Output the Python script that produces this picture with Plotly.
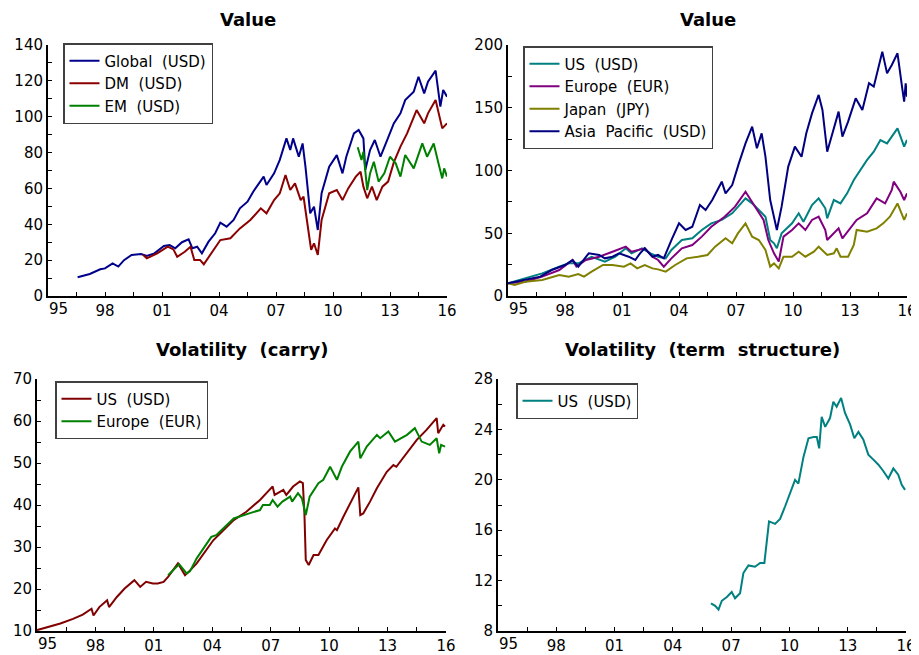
"""
Value and volatility style indices, four panels
"""
import plotly.graph_objects as go

# ---- data (decimal years / index levels) ----
global_x = [1996.56, 1997.2, 1997.75, 1998.0, 1998.4, 1998.7, 1999.0, 1999.4, 1999.9, 2000.2, 2000.6, 2001.1, 2001.4, 2001.7, 2002.05, 2002.4, 2002.6, 2002.85, 2003.1, 2003.45, 2003.8, 2004.07, 2004.4, 2004.77, 2005.1, 2005.5, 2005.8, 2006.35, 2006.5, 2006.9, 2007.2, 2007.55, 2007.75, 2007.9, 2008.2, 2008.4, 2008.55, 2008.8, 2009.0, 2009.2, 2009.4, 2009.8, 2010.2, 2010.5, 2010.7, 2011.1, 2011.35, 2011.6, 2011.7, 2011.95, 2012.2, 2012.5, 2012.85, 2013.2, 2013.55, 2013.8, 2014.25, 2014.5, 2014.8, 2015.0, 2015.4, 2015.65, 2015.8, 2016.0]
global_y = [10.5, 12.3, 14.9, 15.4, 18.2, 16.4, 20.0, 22.9, 23.4, 22.3, 23.8, 27.9, 28.4, 26.6, 30.0, 31.6, 26.6, 27.5, 23.8, 30.3, 35.0, 40.9, 38.7, 42.4, 48.9, 52.6, 58.2, 66.6, 61.9, 68.4, 75.9, 87.9, 81.4, 87.9, 77.7, 85.1, 72.1, 46.1, 49.8, 36.8, 57.3, 72.1, 78.6, 68.4, 77.7, 90.7, 92.6, 87.9, 70.3, 81.4, 87.0, 77.7, 87.0, 96.3, 101.9, 109.3, 114.0, 122.3, 113.0, 119.5, 125.7, 105.6, 114.9, 111.2]

dm_x = [2000.0, 2000.2, 2000.75, 2001.3, 2001.6, 2001.8, 2002.2, 2002.5, 2002.7, 2003.0, 2003.2, 2003.55, 2004.07, 2004.6, 2005.1, 2005.65, 2006.2, 2006.5, 2006.9, 2007.2, 2007.5, 2007.75, 2008.0, 2008.3, 2008.45, 2008.6, 2008.85, 2009.0, 2009.2, 2009.4, 2009.8, 2010.2, 2010.5, 2010.8, 2011.2, 2011.45, 2011.6, 2011.8, 2012.05, 2012.3, 2012.6, 2012.9, 2013.2, 2013.55, 2013.9, 2014.4, 2014.8, 2015.0, 2015.4, 2015.75, 2016.0]
dm_y = [23.0, 21.0, 23.8, 27.5, 26.0, 21.9, 24.7, 27.5, 20.1, 20.1, 17.7, 22.9, 31.2, 32.2, 37.7, 42.4, 48.9, 46.1, 53.5, 57.3, 67.5, 59.1, 62.8, 53.5, 55.4, 44.2, 25.7, 29.4, 22.9, 42.4, 57.3, 59.1, 53.5, 60.0, 66.6, 69.3, 61.0, 54.5, 61.0, 53.5, 61.0, 63.8, 74.5, 83.3, 90.7, 103.7, 96.3, 101.9, 109.3, 93.5, 96.3]

em_x = [2011.3, 2011.5, 2011.6, 2011.8, 2011.95, 2012.15, 2012.4, 2012.7, 2013.0, 2013.3, 2013.55, 2013.8, 2014.25, 2014.7, 2014.95, 2015.3, 2015.55, 2015.75, 2015.85, 2016.0]
em_y = [83.0, 75.9, 80.5, 59.1, 68.4, 74.9, 63.8, 68.4, 77.7, 74.0, 66.6, 78.6, 71.2, 85.1, 77.7, 85.1, 74.0, 65.6, 71.2, 66.6]

us_x = [1995.0, 1995.9, 1996.8, 1997.7, 1998.2, 1998.7, 1999.4, 2000.1, 2000.65, 2001.2, 2001.5, 2002.05, 2002.5, 2002.9, 2003.3, 2003.6, 2004.15, 2004.7, 2005.2, 2005.7, 2006.25, 2006.8, 2007.2, 2007.5, 2007.85, 2008.2, 2008.55, 2008.8, 2009.0, 2009.15, 2009.4, 2009.95, 2010.3, 2010.55, 2011.0, 2011.35, 2011.7, 2011.8, 2012.15, 2012.5, 2012.85, 2013.2, 2013.55, 2013.9, 2014.25, 2014.6, 2014.95, 2015.5, 2015.85, 2016.0]
us_y = [10.1, 14.0, 18.0, 23.4, 26.0, 26.0, 31.3, 27.4, 31.3, 38.0, 34.0, 38.0, 34.0, 31.3, 30.0, 36.7, 44.6, 46.0, 52.6, 57.9, 60.6, 65.9, 72.5, 77.8, 73.8, 68.5, 63.2, 44.6, 42.0, 38.0, 49.9, 57.9, 65.9, 59.2, 72.5, 77.8, 69.9, 61.9, 76.5, 73.8, 81.8, 92.4, 100.4, 108.4, 115.0, 124.3, 121.6, 133.6, 119.0, 124.3]

eu_x = [1995.0, 1995.9, 1996.8, 1997.7, 1998.4, 1998.6, 1999.1, 1999.8, 2000.5, 2001.2, 2001.5, 2002.2, 2002.6, 2002.9, 2003.2, 2003.6, 2004.15, 2004.7, 2005.2, 2005.7, 2006.4, 2006.95, 2007.5, 2007.85, 2008.2, 2008.45, 2008.7, 2009.0, 2009.25, 2009.5, 2009.95, 2010.3, 2010.65, 2011.0, 2011.35, 2011.7, 2011.8, 2012.15, 2012.4, 2012.6, 2013.0, 2013.35, 2013.9, 2014.4, 2014.85, 2015.2, 2015.3, 2015.65, 2015.85, 2016.0]
eu_y = [10.1, 11.4, 15.4, 20.7, 28.7, 23.4, 28.7, 31.3, 35.3, 39.3, 35.3, 38.0, 31.3, 28.7, 23.4, 30.0, 38.0, 40.6, 47.3, 55.2, 63.2, 71.2, 83.1, 75.2, 67.2, 60.6, 44.6, 34.0, 27.4, 47.3, 52.6, 57.9, 52.6, 60.6, 63.2, 52.6, 44.6, 49.9, 53.9, 46.0, 53.9, 60.6, 65.9, 77.8, 73.8, 84.5, 91.1, 83.1, 76.5, 81.8]

jp_x = [1995.0, 1995.35, 1995.9, 1996.8, 1997.7, 1998.2, 1998.7, 1999.0, 1999.4, 2000.0, 2000.5, 2001.1, 2001.45, 2001.8, 2002.2, 2002.6, 2002.9, 2003.3, 2003.8, 2004.4, 2005.0, 2005.5, 2005.9, 2006.45, 2006.8, 2007.1, 2007.5, 2007.85, 2008.2, 2008.55, 2008.8, 2009.0, 2009.25, 2009.5, 2009.95, 2010.3, 2010.65, 2011.1, 2011.35, 2011.8, 2012.15, 2012.3, 2012.5, 2012.9, 2013.2, 2013.35, 2013.9, 2014.4, 2014.75, 2015.1, 2015.5, 2015.85, 2016.0]
jp_y = [10.1, 8.8, 11.4, 12.7, 16.7, 15.4, 17.5, 15.4, 19.4, 24.7, 24.7, 23.4, 26.0, 22.0, 24.7, 22.0, 21.2, 19.4, 24.7, 30.0, 31.3, 32.7, 39.3, 46.0, 42.0, 49.9, 57.9, 47.3, 44.6, 36.7, 23.4, 26.0, 22.0, 31.3, 31.3, 35.3, 31.3, 35.3, 39.3, 32.7, 34.0, 38.0, 31.3, 31.3, 40.6, 52.6, 51.3, 53.9, 57.9, 63.2, 73.8, 60.6, 65.9]

ap_x = [1995.0, 1995.9, 1996.7, 1997.3, 1998.0, 1998.4, 1998.7, 1999.25, 1999.8, 2000.1, 2000.5, 2000.85, 2001.35, 2001.7, 2001.95, 2002.2, 2002.6, 2002.9, 2003.2, 2003.6, 2004.0, 2004.35, 2004.7, 2005.1, 2005.4, 2005.75, 2006.25, 2006.45, 2006.8, 2007.15, 2007.5, 2007.85, 2008.1, 2008.35, 2008.55, 2008.8, 2009.0, 2009.15, 2009.4, 2009.75, 2010.1, 2010.45, 2010.7, 2011.0, 2011.35, 2011.55, 2011.8, 2012.15, 2012.4, 2012.6, 2012.9, 2013.3, 2013.65, 2014.0, 2014.25, 2014.7, 2014.95, 2015.2, 2015.5, 2015.75, 2015.85, 2015.93, 2016.0]
ap_y = [10.1, 12.7, 15.4, 20.7, 24.7, 28.7, 23.4, 34.0, 32.7, 30.0, 31.3, 34.0, 31.3, 28.7, 34.0, 38.0, 31.3, 32.7, 30.0, 44.6, 57.9, 52.6, 55.2, 72.5, 68.5, 76.5, 91.1, 81.8, 88.4, 105.7, 121.6, 134.9, 117.7, 129.6, 111.0, 76.5, 63.2, 52.6, 71.2, 103.1, 119.0, 111.0, 129.6, 145.5, 160.2, 148.2, 115.0, 134.9, 146.9, 127.0, 138.9, 157.5, 148.2, 169.5, 166.8, 194.7, 177.4, 184.1, 193.4, 165.5, 154.9, 169.5, 158.8]

carry_us_x = [1995.0, 1995.65, 1996.2, 1996.85, 1997.35, 1997.8, 1997.9, 1998.2, 1998.6, 1998.7, 1999.1, 1999.5, 2000.0, 2000.3, 2000.6, 2000.95, 2001.2, 2001.5, 2001.73, 2002.24, 2002.6, 2002.75, 2003.2, 2004.05, 2005.1, 2005.75, 2006.45, 2006.85, 2007.1, 2007.2, 2007.65, 2007.8, 2008.15, 2008.5, 2008.65, 2008.73, 2008.8, 2008.95, 2009.2, 2009.45, 2009.87, 2010.3, 2010.4, 2010.73, 2011.15, 2011.5, 2011.6, 2011.75, 2012.1, 2012.45, 2012.96, 2013.3, 2013.45, 2013.99, 2014.5, 2015.0, 2015.52, 2015.6, 2015.86, 2015.95]
carry_us_y = [10.2, 11.0, 11.8, 12.9, 13.9, 15.3, 13.7, 15.7, 17.3, 15.7, 18.1, 20.1, 22.1, 20.5, 21.7, 21.3, 21.3, 21.7, 22.9, 26.1, 23.3, 23.9, 26.1, 31.6, 36.4, 38.4, 41.2, 43.2, 44.4, 42.4, 43.6, 42.4, 44.4, 45.6, 45.2, 38.0, 26.9, 25.7, 28.1, 28.1, 31.6, 34.4, 34.0, 37.2, 41.2, 44.2, 37.6, 38.0, 40.8, 44.0, 47.9, 49.5, 49.1, 52.3, 55.5, 57.9, 60.7, 57.1, 59.1, 58.7]

carry_eu_x = [2001.73, 2002.3, 2002.68, 2002.85, 2003.2, 2003.95, 2004.2, 2005.1, 2005.9, 2006.45, 2006.6, 2006.95, 2007.1, 2007.35, 2007.6, 2008.0, 2008.1, 2008.4, 2008.6, 2008.8, 2009.0, 2009.45, 2009.7, 2010.05, 2010.4, 2010.65, 2011.07, 2011.5, 2011.6, 2011.93, 2012.45, 2012.62, 2013.04, 2013.38, 2014.0, 2014.4, 2014.75, 2015.17, 2015.52, 2015.65, 2015.75, 2015.95]
carry_eu_y = [23.3, 25.9, 23.7, 24.2, 27.3, 32.4, 32.8, 36.8, 38.0, 38.8, 40.0, 40.0, 41.2, 39.6, 40.8, 42.0, 40.8, 42.8, 41.6, 37.6, 42.0, 45.2, 46.0, 49.1, 46.0, 49.1, 52.7, 55.1, 51.1, 53.9, 56.7, 55.9, 57.5, 55.1, 56.7, 58.3, 55.1, 54.3, 55.9, 52.3, 54.3, 53.9]

term_us_x = [2005.96, 2006.18, 2006.35, 2006.52, 2006.78, 2007.03, 2007.2, 2007.46, 2007.63, 2007.89, 2008.23, 2008.49, 2008.71, 2008.83, 2008.95, 2009.26, 2009.52, 2009.78, 2010.03, 2010.29, 2010.46, 2010.72, 2010.98, 2011.24, 2011.41, 2011.53, 2011.66, 2011.84, 2012.09, 2012.26, 2012.43, 2012.66, 2012.86, 2013.12, 2013.34, 2013.55, 2013.8, 2014.06, 2014.32, 2014.58, 2014.83, 2015.09, 2015.35, 2015.6, 2015.78, 2015.95]
term_us_y = [10.2, 10.0, 9.7, 10.4, 10.7, 11.1, 10.6, 11.0, 12.6, 13.2, 13.1, 13.4, 13.4, 15.3, 16.7, 16.5, 16.9, 17.9, 18.9, 20.0, 19.7, 21.8, 23.3, 23.4, 23.4, 22.5, 25.0, 24.2, 24.9, 26.2, 25.8, 26.5, 25.3, 24.4, 23.3, 23.8, 23.2, 22.0, 21.6, 21.2, 20.7, 20.1, 20.9, 20.4, 19.6, 19.2]

# year ticks every 1.5 years, labels every 3 ("95" is placed separately, nudged off the y axis)
year_ticks = [1995 + 1.5 * i for i in range(15)]
year_labels = ["", "", "98", "", "01", "", "04", "", "07", "", "10", "", "13", "", "16"]
first_year_label = "95"

FONT = "DejaVu Sans"
# the page body has an 8px margin, so the figure is 8px smaller than the window
OFF = 8
W, H = 919 - OFF, 655 - OFF
SP = "\u00a0 "  # wide word gap like the original


def wide(s):
    return s.replace(" ", SP)


colors = {
    'navy': '#00008B',
    'darkred': '#8B0000',
    'green': '#008000',
    'teal': '#008080',
    'purple': '#800080',
    'olive': '#808000',
}

fig = go.Figure()


def add_line(x, y, name, color, ax, legend):
    fig.add_trace(go.Scatter(
        x=x, y=y, name=wide(name), mode='lines',
        line=dict(color=color, width=2),
        xaxis='x' + ax, yaxis='y' + ax, legend=legend
    ))


# panel 1
add_line(global_x, global_y, 'Global (USD)', colors['navy'], '', 'legend')
add_line(dm_x, dm_y, 'DM (USD)', colors['darkred'], '', 'legend')
add_line(em_x, em_y, 'EM (USD)', colors['green'], '', 'legend')
# panel 2
add_line(us_x, us_y, 'US (USD)', colors['teal'], '2', 'legend2')
add_line(eu_x, eu_y, 'Europe (EUR)', colors['purple'], '2', 'legend2')
add_line(jp_x, jp_y, 'Japan (JPY)', colors['olive'], '2', 'legend2')
add_line(ap_x, ap_y, 'Asia Pacific (USD)', '#000080', '2', 'legend2')
# panel 3
add_line(carry_us_x, carry_us_y, 'US (USD)', '#800000', '3', 'legend3')
add_line(carry_eu_x, carry_eu_y, 'Europe (EUR)', colors['green'], '3', 'legend3')
# panel 4
add_line(term_us_x, term_us_y, 'US (USD)', colors['teal'], '4', 'legend4')


# page pixel -> paper fraction
def px_x(p):
    return (p - OFF) / W


def px_y(p):
    return 1 - (p - OFF) / H


def xaxis(left, right, anchor):
    return dict(
        domain=[px_x(left), px_x(right)], range=[1995, 2016], anchor=anchor,
        tickmode='array', tickvals=year_ticks, ticktext=year_labels,
        showline=True, linecolor='black', linewidth=2,
        ticks='inside', ticklen=4, tickcolor='black', tickwidth=1,
        showgrid=False, zeroline=False, automargin=False,
        tickfont=dict(family=FONT, size=15, color='black')
    )


def yaxis(top, bottom, anchor, lo, hi, step, label_step):
    vals = []
    texts = []
    v = lo
    while v <= hi + 1e-9:
        vals.append(v)
        texts.append(str(int(v)) if (v - lo) % label_step == 0 else "")
        v += step
    return dict(
        domain=[px_y(bottom), px_y(top)], range=[lo, hi], anchor=anchor,
        tickmode='array', tickvals=vals, ticktext=texts,
        showline=True, linecolor='black', linewidth=2,
        ticks='inside', ticklen=4, tickcolor='black', tickwidth=1,
        showgrid=False, zeroline=False, automargin=False,
        tickfont=dict(family=FONT, size=15, color='black')
    )


def legend_box(left, top):
    return dict(
        x=px_x(left), y=px_y(top), xanchor='left', yanchor='top',
        bgcolor='white', bordercolor='#404040', borderwidth=1.5,
        font=dict(family=FONT, size=15, color='black'),
        tracegroupgap=0
    )


fig.update_layout(
    template='none',
    width=W, height=H,
    margin=dict(l=0, r=0, t=0, b=0, autoexpand=False),
    paper_bgcolor='white', plot_bgcolor='white',
    font=dict(family=FONT, size=15, color='black'),
    xaxis=xaxis(48, 447, 'y'),
    yaxis=yaxis(45, 296, 'x', 0, 140, 10, 20),
    xaxis2=xaxis(508, 907, 'y2'),
    yaxis2=yaxis(45, 296, 'x2', 0, 200, 25, 50),
    xaxis3=xaxis(37, 446, 'y3'),
    yaxis3=yaxis(379, 631, 'x3', 10, 70, 5, 10),
    xaxis4=xaxis(498, 906, 'y4'),
    yaxis4=yaxis(379, 631, 'x4', 8, 28, 2, 4),
    legend=legend_box(63, 43),
    legend2=legend_box(523, 46),
    legend3=legend_box(55, 381),
    legend4=legend_box(516, 383),
)

# first year label on each panel, shifted right so it clears the y tick labels
for ax in ['', '2', '3', '4']:
    fig.add_annotation(
        text=first_year_label, xref='x' + ax, yref='y' + ax + ' domain',
        x=1995, y=0, xanchor='center', yanchor='top', xshift=10, yshift=-2,
        showarrow=False, font=dict(family=FONT, size=15, color='black')
    )

# panel titles: (text, centre x in page px, top y in page px)
titles = [
    ("Value", (48 + 447) / 2, 8),
    ("Value", (508 + 907) / 2, 8),
    ("Volatility (carry)", (37 + 446) / 2, 338),
    ("Volatility (term structure)", (498 + 906) / 2, 338),
]
for text, cx, ty in titles:
    fig.add_annotation(
        text="<b>" + wide(text) + "</b>", xref='paper', yref='paper',
        x=px_x(cx), y=px_y(ty), xanchor='center', yanchor='top', borderpad=0,
        showarrow=False, font=dict(family=FONT, size=18, color='black')
    )

fig.write_html("out.html")
